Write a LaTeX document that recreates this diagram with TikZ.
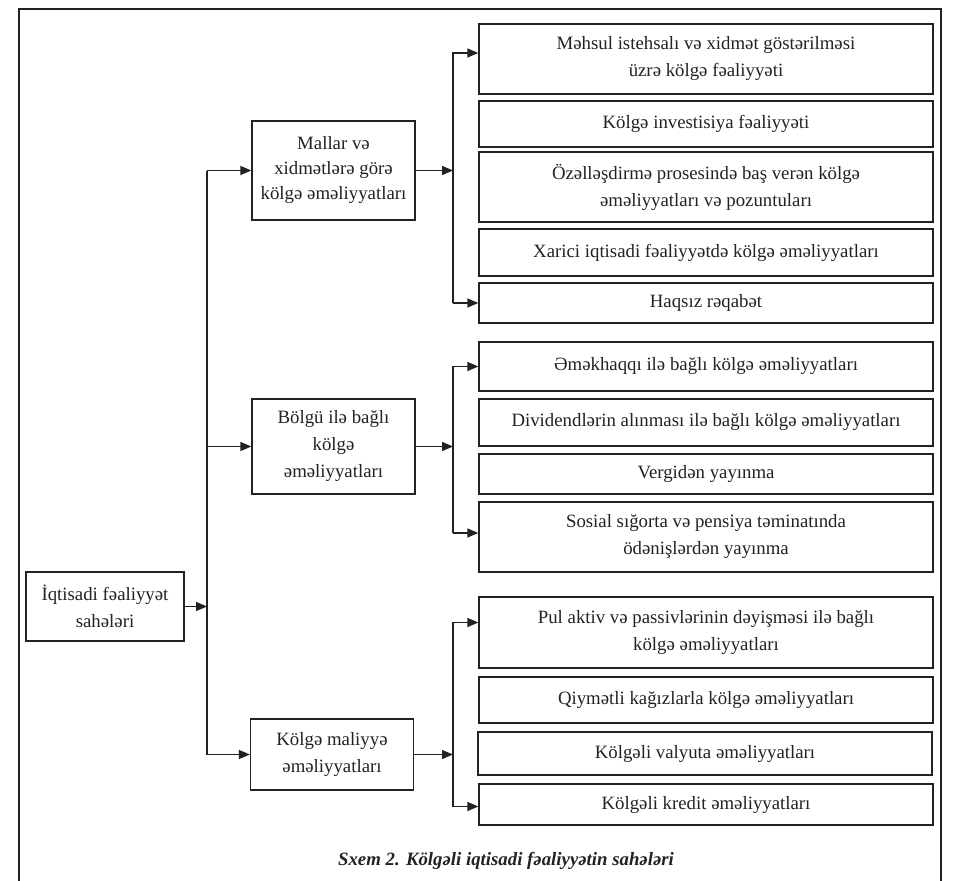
\documentclass[tikz,border=0pt]{standalone}
\usepackage{fontspec}
\setmainfont{Liberation Serif}
\usepackage{xcolor}
\usetikzlibrary{positioning,arrows.meta}
\definecolor{ink}{HTML}{222222}

\begin{document}
\begin{tikzpicture}[x=1pt,y=-1pt,
    box/.style={draw=ink,rectangle,line width=1.3pt,align=center,inner sep=0pt,text=ink,font=\fontsize{18.8}{27}\selectfont},
    leaf/.style={box,minimum width=454pt},
    mid/.style={box,minimum width=163pt},
    arr/.style={draw=ink,line width=1.3pt,-{Triangle[length=11pt,width=9pt]}},
    wire/.style={draw=ink,line width=1.3pt}]
    \useasboundingbox (0,0) rectangle (954,881);

    % outer frame (open at the bottom)
    \draw[ink,line width=2.2pt] (19,881) -- (19,9) -- (941,9) -- (941,881);

    % Root
    \node[box,minimum width=158pt,minimum height=69pt] (root) at (105,606.5) {İqtisadi fəaliyyət\\sahələri};

    % Middle level
    \node[mid,minimum height=99pt,font=\fontsize{18.8}{25}\selectfont] (mMal) at (333.5,170.5) {Mallar və\\xidmətlərə görə\\kölgə əməliyyatları};
    \node[mid,minimum height=95pt] (mBol) at (333.5,446.5) {Bölgü ilə bağlı\\kölgə\\əməliyyatları};
    \node[mid,minimum height=71pt] (mFin) at (332,754.5) {Kölgə maliyyə\\əməliyyatları};

    % Group 1: Mallar ve xidmetler
    \node[leaf,minimum height=70pt] (r1) at (706,59) {Məhsul istehsalı və xidmət göstərilməsi\\üzrə kölgə fəaliyyəti};
    \node[leaf,minimum height=46pt] (r2) at (706,124) {Kölgə investisiya fəaliyyəti};
    \node[leaf,minimum height=70pt] (r3) at (706,187) {Özəlləşdirmə prosesində baş verən kölgə\\əməliyyatları və pozuntuları};
    \node[leaf,minimum height=47pt] (r4) at (706,252.5) {Xarici iqtisadi fəaliyyətdə kölgə əməliyyatları};
    \node[leaf,minimum height=40pt] (r5) at (706,303) {Haqsız rəqabət};

    % Group 2: Bolgu
    \node[leaf,minimum height=49pt] (r6) at (706,366.5) {Əməkhaqqı ilə bağlı kölgə əməliyyatları};
    \node[leaf,minimum height=47pt] (r7) at (706,422.5) {Dividendlərin alınması ilə bağlı kölgə əməliyyatları};
    \node[leaf,minimum height=40pt] (r8) at (706,474) {Vergidən yayınma};
    \node[leaf,minimum height=70pt] (r9) at (706,537) {Sosial sığorta və pensiya təminatında\\ödənişlərdən yayınma};

    % Group 3: Maliyye
    \node[leaf,minimum height=71pt] (r10) at (706,632.5) {Pul aktiv və passivlərinin dəyişməsi ilə bağlı\\kölgə əməliyyatları};
    \node[leaf,minimum height=46pt] (r11) at (706,700) {Qiymətli kağızlarla kölgə əməliyyatları};
    \node[leaf,minimum height=43pt] (r12) at (705,753.5) {Kölgəli valyuta əməliyyatları};
    \node[leaf,minimum height=41pt] (r13) at (706,804.5) {Kölgəli kredit əməliyyatları};

    % Caption
    \node[text=ink,font=\fontsize{18.8}{22}\selectfont\bfseries\itshape] (cap) at (506,861) {Sxem 2. Kölgəli iqtisadi fəaliyyətin sahələri};

    % Trunk from root to middle level
    \coordinate (tx) at (207,0);
    \draw[wire] (tx |- mMal.west) -- (tx |- mFin.west);
    \draw[arr] (root.east) -- (tx |- root.east);
    \draw[arr] (tx |- mMal.west) -- (mMal.west);
    \draw[arr] (tx |- mBol.west) -- (mBol.west);
    \draw[arr] (tx |- mFin.west) -- (mFin.west);

    % Trunks from middle level to leaves
    \coordinate (sx) at (453,0);
    \draw[arr] (mMal.east) -- (sx |- mMal.east);
    \draw[arr] (mBol.east) -- (sx |- mBol.east);
    \draw[arr] (mFin.east) -- (sx |- mFin.east);

    \draw[arr] (sx |- r5.west) |- ([yshift=6pt]r1.west);
    \draw[arr] (sx |- r5.west) -- (r5.west);

    \draw[arr] ([yshift=4pt]r9.west -| sx) |- (r6.west);
    \draw[arr] ([yshift=4pt]r9.west -| sx) -- ([yshift=4pt]r9.west);

    \draw[arr] ([yshift=-2pt]r13.west -| sx) |- ([yshift=10pt]r10.west);
    \draw[arr] ([yshift=-2pt]r13.west -| sx) -- ([yshift=-2pt]r13.west);
\end{tikzpicture}
\end{document}
